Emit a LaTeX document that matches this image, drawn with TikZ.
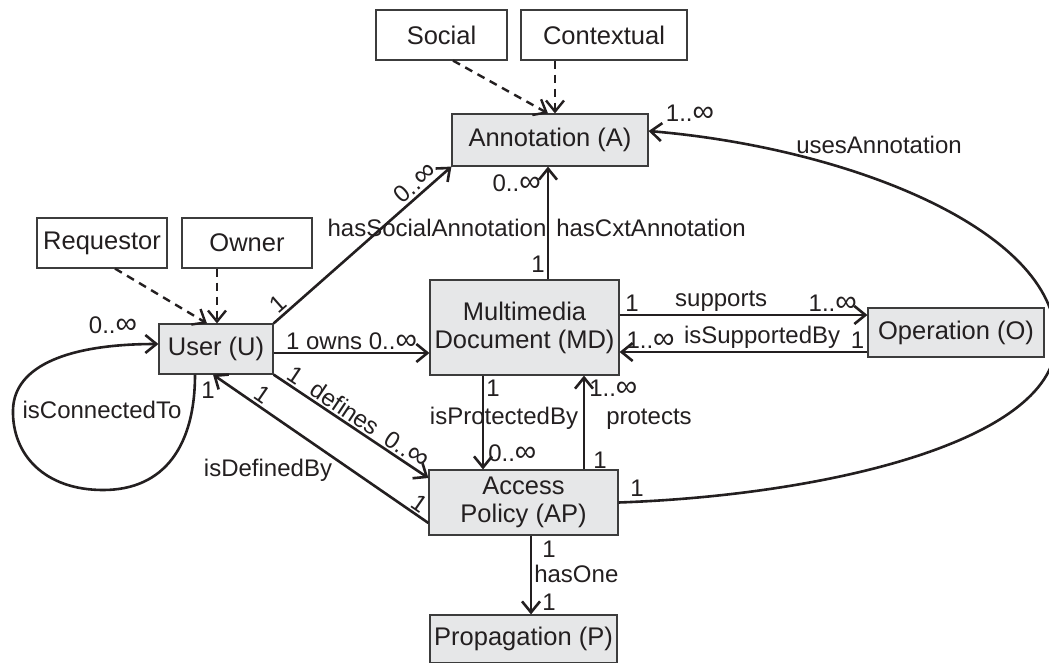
\documentclass[tikz,border=0pt]{standalone}
\usepackage{fontspec}
\setmainfont{Liberation Sans}
\usetikzlibrary{arrows.meta}
\definecolor{inkcol}{HTML}{231F20}
\definecolor{boxcol}{HTML}{E6E7E8}
\definecolor{edgecol}{HTML}{3C3C3C}
\newcommand\inftxt{\scalebox{1.25}{∞}}

\begin{document}
\begin{tikzpicture}[x=1pt, y=-1pt,
  cls/.style={draw=edgecol, line width=1.2pt, fill=boxcol, text=inkcol,
    inner sep=0pt, align=center, font=\fontsize{25.5}{28}\selectfont},
  role/.style={cls, fill=white},
  rel/.style={-{Straight Barb[length=11pt, width=18pt]}, line width=2.6pt, inkcol},
  relback/.style={{Straight Barb[length=11pt, width=18pt]}-, line width=2.6pt, inkcol},
  spec/.style={rel, line width=2.4pt, dash pattern=on 8pt off 6pt},
  lbl/.style={font=\fontsize{24}{26}\selectfont, text=inkcol, inner sep=2pt}]
\useasboundingbox (0,0) rectangle (1049,662);
% roles
\node[role, minimum width=131pt, minimum height=50pt] (soc) at (441.5,35) {Social};
\node[role, minimum width=166pt, minimum height=50pt] (ctx) at (604,35) {Contextual};
\node[role, minimum width=130pt, minimum height=50pt] (req) at (102,243) {Requestor};
\node[role, minimum width=130pt, minimum height=50pt] (own) at (247,243) {Owner};
% classes
\node[cls, minimum width=196pt, minimum height=52pt] (ann) at (550,140) {Annotation (A)};
\node[cls, minimum width=114pt, minimum height=50pt] (usr) at (216,349) {User (U)};
\node[cls, minimum width=189pt, minimum height=95pt] (mmd) at (524.5,327.5) {Multimedia\\Document (MD)};
\node[cls, minimum width=176pt, minimum height=49pt] (ope) at (956,332.5) {Operation (O)};
\node[cls, minimum width=189pt, minimum height=65pt] (acp) at (523.5,502.5) {Access\\Policy (AP)};
\node[cls, minimum width=187pt, minimum height=48pt] (pro) at (523.5,639) {Propagation (P)};
% specialisations
\draw[spec] ([xshift=11.5pt]soc.south) -- ([xshift=-2pt]ann.north);
\draw[spec] ([xshift=-49pt]ctx.south) -- ([xshift=5pt]ann.north);
\draw[spec] ([xshift=13pt]req.south) -- ([xshift=-9pt]usr.north);
\draw[spec] ([xshift=-30pt]own.south) -- ([xshift=1pt]usr.north);
% user edges
\draw[rel] (usr.north east) -- (ann.south west)
  node[lbl, sloped, above, pos=0.07] {1}
  node[lbl, sloped, above, pos=0.84] {0..\inftxt};
\node[lbl] (hsa) at (437,228) {hasSocialAnnotation};
\draw[rel] ([yshift=-4pt]usr.east) -- ([yshift=-4pt]usr.east -| mmd.west)
  node[lbl, midway, above] {1 owns 0..\inftxt};
\draw[rel] (usr.south east) -- ([yshift=24.5pt]acp.west)
  node[lbl, sloped, above, pos=0.1] {1}
  node[lbl, sloped, above, pos=0.42] {defines}
  node[lbl, sloped, above, pos=0.82] {0..\inftxt};
\draw[relback] ([xshift=-3pt]usr.south) -- ([yshift=-20.5pt]acp.west)
  node[lbl, sloped, above, pos=0.2] {1}
  node[lbl, sloped, above, pos=0.93] {1};
\node[lbl] (idb) at (268,470) {isDefinedBy};
\draw[rel] ([xshift=-21pt]usr.south) .. controls (195,445) and (165,490) .. (103,490)
  .. controls (45,490) and (12,455) .. (13,410)
  .. controls (14,365) and (70,344) .. ([yshift=5pt]usr.west);
\node[lbl] (ict) at (102,410) {isConnectedTo};
\node[lbl] (icm) at (113,325) {0..\inftxt};
\node[lbl] (icn) at (208,390) {1};
% document edges
\draw[rel] ([xshift=-2pt]ann.south |- mmd.north) -- ([xshift=-2pt]ann.south)
  node[lbl, left, pos=0.13] {1}
  node[lbl, left, pos=0.85, xshift=-4pt] {0..\inftxt}
  node[lbl, right, pos=0.46, xshift=5pt] {hasCxtAnnotation};
\draw[rel] ([yshift=12.5pt]mmd.east) -- ([yshift=12.5pt]mmd.east -| ope.west)
  node[lbl, above, pos=0.05] {1}
  node[lbl, above, pos=0.41] {supports}
  node[lbl, above, pos=0.86] {1..\inftxt};
\draw[relback] ([yshift=-24.5pt]mmd.east) -- ([yshift=-24.5pt]mmd.east -| ope.west)
  node[lbl, above, pos=0.125] {1..\inftxt}
  node[lbl, above, pos=0.575] {isSupportedBy}
  node[lbl, above, pos=0.96] {1};
\draw[rel] ([xshift=-41.5pt]mmd.south) -- ([xshift=-41.5pt]mmd.south |- acp.north)
  node[lbl, right, pos=0.14] {1}
  node[lbl, pos=0.46, xshift=21pt] {isProtectedBy}
  node[lbl, right, pos=0.83, xshift=2pt] {0..\inftxt};
\draw[rel] ([xshift=60.5pt]acp.north) -- ([xshift=60.5pt]acp.north |- mmd.south)
  node[lbl, right, pos=0.1, xshift=6pt] {1}
  node[lbl, right, pos=0.54, xshift=19pt] {protects}
  node[lbl, right, pos=0.86, xshift=2pt] {1..\inftxt};
% policy edges
\draw[rel] ([xshift=7.5pt]acp.south) -- ([xshift=7.5pt]acp.south |- pro.north)
  node[lbl, right, pos=0.17, xshift=8pt] {1}
  node[lbl, right, pos=0.49] {hasOne}
  node[lbl, right, pos=0.85, xshift=8pt] {1};
\draw[rel] (acp.east) .. controls (830,495) and (1058,440) .. (1056,340)
  .. controls (1055,230) and (850,148) .. ([yshift=9pt]ann.east);
\node[lbl] (uan) at (879,145) {usesAnnotation};
\node[lbl] (uam) at (690,113) {1..\inftxt};
\node[lbl] (uao) at (637,488) {1};
\end{tikzpicture}
\end{document}
